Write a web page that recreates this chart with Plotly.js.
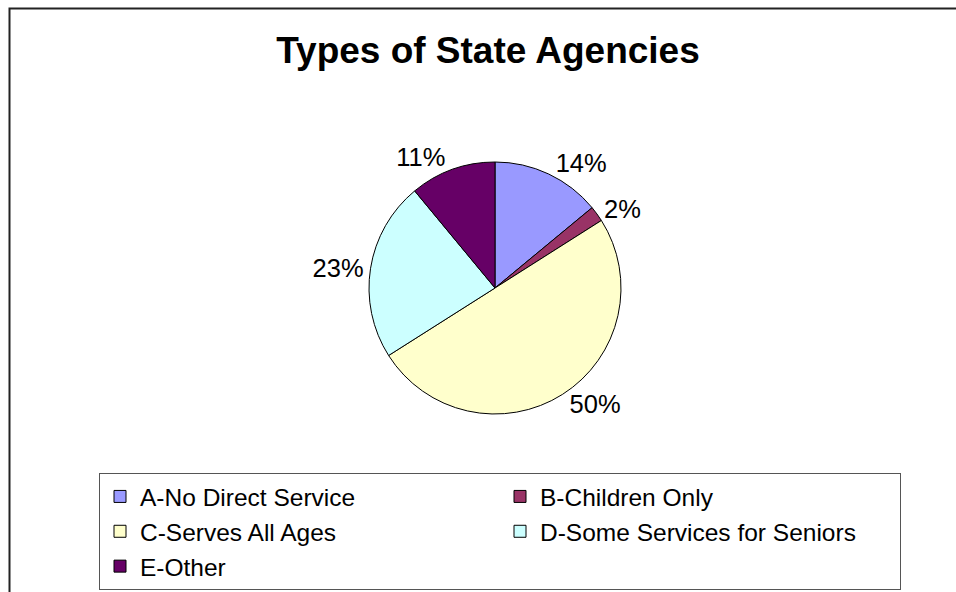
<!DOCTYPE html>
<html>
<head>
<meta charset="utf-8">
<script src="https://cdn.plot.ly/plotly-3.0.1.min.js"></script>
<style>html,body{margin:0;padding:0;background:#fff;}#chart{width:956px;height:592px;}</style>
</head>
<body>
<div id="chart"></div>
<script>
const categories = ["A-No Direct Service", "B-Children Only", "C-Serves All Ages", "D-Some Services for Seniors", "E-Other"];
const values = [14, 2, 50, 23, 11];
const colors = ["#9999FF", "#993366", "#FFFFCC", "#CCFFFF", "#660066"];
const chartTitle = "Types of State Agencies";

const W = 956, H = 592;
const cx = 495, cy = 288, r = 126;

const trace = {
  type: "pie",
  labels: categories,
  values: values,
  sort: false,
  direction: "clockwise",
  rotation: 0,
  marker: { colors: colors, line: { color: "#000", width: 1 } },
  textinfo: "percent",
  textposition: "outside",
  outsidetextfont: { family: "Liberation Sans, Arial, sans-serif", size: 25.5, color: "#000" },
  hoverinfo: "label+percent",
  automargin: false,
  domain: {
    x: [(cx - r) / W, (cx + r) / W],
    y: [(H - cy - r) / H, (H - cy + r) / H]
  }
};

const layout = {
  width: W, height: H,
  margin: { l: 0, r: 0, t: 0, b: 0, autoexpand: false },
  paper_bgcolor: "#fff",
  font: { family: "Liberation Sans, Arial, sans-serif", color: "#000" },
  title: {
    text: "<b>" + chartTitle + "</b>",
    font: { family: "Liberation Sans, Arial, sans-serif", size: 37, color: "#000" },
    xref: "container", yref: "container",
    x: 488 / W, xanchor: "center",
    y: 1 - 50 / H, yanchor: "middle"
  },
  showlegend: true,
  legend: {
    orientation: "h",
    xref: "container", yref: "container",
    x: 99 / W, xanchor: "left",
    y: 1 - 473 / H, yanchor: "top",
    entrywidth: 355, entrywidthmode: "pixels",
    bordercolor: "#555", borderwidth: 1,
    bgcolor: "#fff",
    traceorder: "normal",
    font: { family: "Liberation Sans, Arial, sans-serif", size: 24.5, color: "#000" }
  },
  shapes: [
    { type: "rect", xref: "paper", yref: "paper",
      x0: 9.5 / W, x1: 1.02, y0: -0.02, y1: 1 - 8.5 / H,
      line: { color: "#222", width: 2 }, fillcolor: "rgba(0,0,0,0)", layer: "below" }
  ]
};

Plotly.newPlot("chart", [trace], layout, { displayModeBar: false, staticPlot: true });
</script>
</body>
</html>
